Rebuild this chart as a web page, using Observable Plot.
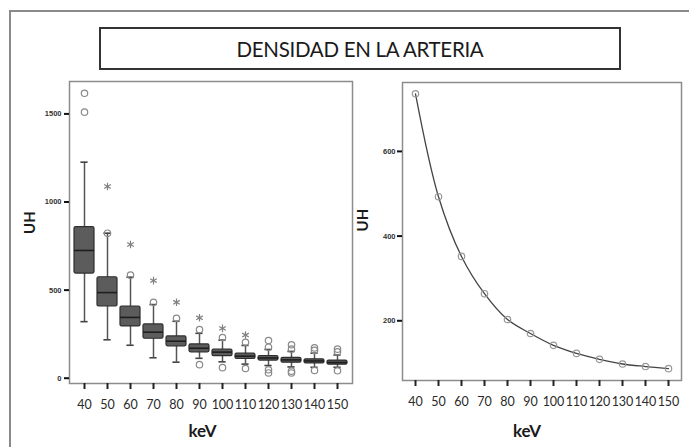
<!DOCTYPE html>
<html>
<head>
<meta charset="utf-8">
<script src="https://cdn.jsdelivr.net/npm/d3@7"></script>
<script src="https://cdn.jsdelivr.net/npm/@observablehq/plot@0.6"></script>
<style>
  html, body { margin: 0; padding: 0; background: #fff; }
  body { width: 689px; height: 447px; overflow: hidden; position: relative; font-family: Lato, "Open Sans", sans-serif; }
  #outer { position: absolute; left: 9px; top: 10px; width: 720px; height: 520px; border: 2px solid #8a8a8a; box-sizing: border-box; }
  #title { position: absolute; left: 99px; top: 27px; width: 522px; height: 43px; border: 2.5px solid #333; box-sizing: border-box;
           display: flex; align-items: center; justify-content: center; font-family: Lato, sans-serif; font-size: 20.5px; color: #1a1a1a; letter-spacing: -0.3px; }
  #left { position: absolute; left: 0; top: 70px; }
  #right { position: absolute; left: 355px; top: 70px; }
  svg { background: transparent !important; }
</style>
</head>
<body>
<div id="outer"></div>
<div id="title">DENSIDAD EN LA ARTERIA</div>
<div id="left"></div>
<div id="right"></div>
<script>
// ---- data ----
const keV = ["40","50","60","70","80","90","100","110","120","130","140","150"];
const q1 =        [594, 407, 294, 224, 181, 147, 125, 109, 100,  88,  84,  77];
const median =    [725, 486, 345, 261, 210, 170, 148, 125, 115, 104,  98,  89];
const q3 =        [857, 573, 407, 305, 237, 192, 163, 139, 126, 116, 107, 100];
const whiskerLo = [321, 218, 187, 116,  91, 113,  93,  80,  72,  64,  62,  62];
const whiskerHi = [1226, 823, 573, 418, 323, 255, 216, 186, 163, 152, 142, 132];
const outlierKeV =   ["40","40","50","60","70","80","90","90","100","100","110","110","120","120","120","120","130","130","130","130","140","140","140","150","150","150"];
const outlierValue = [1617,1510, 823, 585, 431, 340, 276,  77, 231,  60, 204,  55, 214, 176,  48,  30, 190, 165,  40,  30, 172, 158,  44, 165, 150,  42];
const extremeKeV =   ["50","60","70","80","90","100","110"];
const extremeValue = [1088, 759, 554, 431, 343, 283, 245];
const meanUH = [736, 493, 352, 264, 203, 170, 142, 123, 109, 98, 92, 87];
const yTicksLeft = [0, 500, 1000, 1500];
const yTicksRight = [200, 400, 600];

// tables built from the arrays
const boxes = keV.map((k, i) => ({keV: k, q1: q1[i], median: median[i], q3: q3[i], lo: whiskerLo[i], hi: whiskerHi[i]}));
const outliers = outlierKeV.map((k, i) => ({keV: k, value: outlierValue[i]}));
const extremes = extremeKeV.map((k, i) => ({keV: k, value: extremeValue[i]}));
const means = keV.map((k, i) => ({keV: k, value: meanUH[i]}));

const tickFont = "Lato, 'Open Sans', sans-serif";
const smallFont = "'Liberation Sans', Arial, sans-serif";
const plain = d3.format("d");

const left = Plot.plot({
  width: 355, height: 377,
  marginLeft: 69, marginRight: 3, marginTop: 11, marginBottom: 64,
  style: {background: "transparent", overflow: "visible"},
  x: {type: "band", domain: keV, paddingInner: 0.12, paddingOuter: 0.06},
  y: {domain: [-30, 1684]},
  marks: [
    Plot.ruleX(boxes, {x: "keV", y1: "lo", y2: "hi", stroke: "#555", strokeWidth: 1.5}),
    Plot.tickY(boxes, {x: "keV", y: "hi", stroke: "#444", strokeWidth: 1.6, insetLeft: 6.4, insetRight: 6.4}),
    Plot.tickY(boxes, {x: "keV", y: "lo", stroke: "#444", strokeWidth: 1.6, insetLeft: 6.4, insetRight: 6.4}),
    Plot.barY(boxes, {x: "keV", y1: "q1", y2: "q3", fill: "#5c5c5c", stroke: "#2e2e2e", strokeWidth: 1.2, rx: 1.5}),
    Plot.tickY(boxes, {x: "keV", y: "median", stroke: "#1e1e1e", strokeWidth: 1.6}),
    Plot.dot(outliers, {x: "keV", y: "value", r: 3.2, stroke: "#8a8a8a", strokeWidth: 1.2, fill: "none"}),
    Plot.dot(extremes, {x: "keV", y: "value", r: 3.6, symbol: "asterisk", stroke: "#808080", strokeWidth: 1.2}),
    Plot.frame({stroke: "#8c8c8c", strokeWidth: 1.5}),
    Plot.axisY({ticks: yTicksLeft, tickFormat: plain, tickSize: 5, tickPadding: 3, strokeWidth: 2, stroke: "#111", fontSize: 7.5, fontWeight: "bold", fontFamily: smallFont, fill: "#333", label: null}),
    Plot.axisX({tickSize: 6, tickPadding: 10.8, strokeWidth: 2, stroke: "#222", fontSize: 12.5, fontFamily: tickFont, fill: "#2a2a2a", label: null}),
    Plot.text(["keV"], {frameAnchor: "bottom", dx: -8.5, dy: 48, lineAnchor: "middle", fontSize: 17, fontWeight: "bold", fontFamily: tickFont, fill: "#1a1a1a"}),
    Plot.text(["UH"], {frameAnchor: "left", dx: -39, dy: 1.5, rotate: -90, fontSize: 15, fontWeight: "bold", fontFamily: tickFont, fill: "#1a1a1a"})
  ]
});
document.getElementById("left").appendChild(left);

const right = Plot.plot({
  width: 334, height: 377,
  marginLeft: 47, marginRight: 8, marginTop: 12, marginBottom: 67,
  style: {background: "transparent", overflow: "visible"},
  x: {type: "point", domain: keV, padding: 0.5},
  y: {domain: [59, 762.7]},
  marks: [
    Plot.line(means, {x: "keV", y: "value", stroke: "#444", strokeWidth: 1.3, curve: "catmull-rom"}),
    Plot.dot(means, {x: "keV", y: "value", r: 3.2, stroke: "#999", strokeWidth: 1.2, fill: "none"}),
    Plot.frame({stroke: "#8c8c8c", strokeWidth: 1.5}),
    Plot.axisY({ticks: yTicksRight, tickFormat: plain, tickSize: 5, tickPadding: 2, strokeWidth: 2, stroke: "#111", fontSize: 7.5, fontWeight: "bold", fontFamily: smallFont, fill: "#333", label: null}),
    Plot.axisX({tickSize: 6, tickPadding: 10.8, strokeWidth: 2, stroke: "#222", fontSize: 12.5, fontFamily: tickFont, fill: "#2a2a2a", label: null}),
    Plot.text(["keV"], {frameAnchor: "bottom", dx: -15, dy: 51, lineAnchor: "middle", fontSize: 17, fontWeight: "bold", fontFamily: tickFont, fill: "#1a1a1a"}),
    Plot.text(["UH"], {frameAnchor: "left", dx: -39, dy: 0, rotate: -90, fontSize: 15, fontWeight: "bold", fontFamily: tickFont, fill: "#1a1a1a"})
  ]
});
document.getElementById("right").appendChild(right);
</script>
</body>
</html>
